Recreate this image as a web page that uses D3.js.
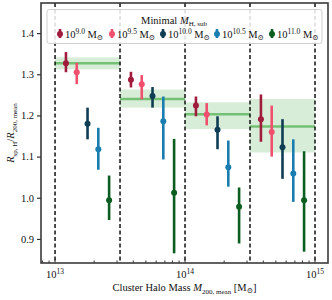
<!DOCTYPE html>
<html>
<head>
<meta charset="utf-8">
<script src="https://cdn.jsdelivr.net/npm/d3@7"></script>
<style>
  body { margin: 0; background: #fff; }
  text { font-family: "Liberation Serif", "DejaVu Serif", serif; fill: #111; }
</style>
</head>
<body>
<div id="chart"></div>
<script>
// bin edges in log10(M200,mean)
const binEdges = [13.0, 13.5, 14.0, 14.5, 15.0];
const minMassLabels = ["9.0", "9.5", "10.0", "10.5", "11.0"];
const seriesColors = ["#a01c3c", "#f0506e", "#0f3d54", "#1a7db0", "#0b5e20"];

// median ratio per series (rows) and mass bin (cols)
const ratioMed = [
    [1.327, 1.287, 1.224, 1.191],
    [1.305, 1.276, 1.202, 1.160],
    [1.180, 1.247, 1.165, 1.123],
    [1.118, 1.186, 1.074, 1.059],
    [0.994, 1.012, 0.978, 0.994]
];
const ratioLow = [
    [1.305, 1.268, 1.198, 1.136],
    [1.276, 1.239, 1.176, 1.100],
    [1.142, 1.219, 1.118, 1.046],
    [1.068, 1.093, 1.027, 0.990],
    [0.946, 0.865, 0.889, 0.869]
];
const ratioHigh = [
    [1.354, 1.306, 1.246, 1.251],
    [1.328, 1.298, 1.230, 1.224],
    [1.219, 1.269, 1.198, 1.191],
    [1.170, 1.246, 1.139, 1.142],
    [1.054, 1.143, 1.025, 1.113]
];

// green bands (combined) per bin
const bandMed = [1.327, 1.240, 1.203, 1.173];
const bandLow = [1.312, 1.219, 1.167, 1.110];
const bandHigh = [1.341, 1.263, 1.232, 1.240];

const yTicks = [0.9, 1.0, 1.1, 1.2, 1.3, 1.4];

const W = 332, H = 300;
const margin = {top: 3, right: 4, bottom: 37, left: 41};
const width = W - margin.left - margin.right;
const height = H - margin.top - margin.bottom;

const svg = d3.select("#chart").append("svg")
    .attr("width", W).attr("height", H);
const g = svg.append("g")
    .attr("transform", "translate(" + margin.left + "," + margin.top + ")");

const x = d3.scaleLog().domain([Math.pow(10, 12.892), Math.pow(10, 15.1)]).range([0, width]);
const y = d3.scaleLinear().domain([0.8415, 1.4732]).range([height, 0]);

// bands
binEdges.slice(0, -1).forEach((e, i) => {
    const x0 = x(Math.pow(10, e)), x1 = x(Math.pow(10, binEdges[i + 1]));
    g.append("rect")
        .attr("x", x0).attr("width", x1 - x0)
        .attr("y", y(bandHigh[i])).attr("height", y(bandLow[i]) - y(bandHigh[i]))
        .attr("fill", "#7cc47c").attr("fill-opacity", 0.3);
    g.append("line")
        .attr("x1", x0).attr("x2", x1)
        .attr("y1", y(bandMed[i])).attr("y2", y(bandMed[i]))
        .attr("stroke", "#74c074").attr("stroke-width", 2.5);
});

// dashed bin edges
binEdges.forEach(e => {
    g.append("line")
        .attr("x1", x(Math.pow(10, e))).attr("x2", x(Math.pow(10, e)))
        .attr("y1", 0).attr("y2", height)
        .attr("stroke", "#000").attr("stroke-width", 1.4)
        .attr("stroke-dasharray", "4,2.5");
});

// error bars
const dex = 0.083;
ratioMed.forEach((row, s) => {
    row.forEach((v, b) => {
        const c = (binEdges[b] + binEdges[b + 1]) / 2 + (s - 2) * dex;
        const px = x(Math.pow(10, c));
        g.append("line")
            .attr("x1", px).attr("x2", px)
            .attr("y1", y(ratioLow[s][b])).attr("y2", y(ratioHigh[s][b]))
            .attr("stroke", seriesColors[s]).attr("stroke-width", 2.6);
        g.append("circle")
            .attr("cx", px).attr("cy", y(v)).attr("r", 3)
            .attr("fill", seriesColors[s]);
    });
});

// axes
const yAxis = g.append("g")
    .call(d3.axisLeft(y).tickValues(yTicks).tickFormat(d3.format(".1f")).tickSize(4).tickPadding(3));
yAxis.select(".domain").remove();
yAxis.selectAll("line").attr("stroke", "#333").attr("stroke-width", 1.2);
yAxis.selectAll("text").attr("font-size", 10.5).attr("font-family", "Liberation Serif");

const minor = [];
for (let d = 12; d <= 15; d++) {
    for (let k = 1; k <= 9; k++) {
        const v = k * Math.pow(10, d);
        if (v >= x.domain()[0] && v <= x.domain()[1]) minor.push(v);
    }
}
const xAxis = g.append("g").attr("transform", "translate(0," + height + ")");
xAxis.selectAll("line.tk").data(minor).enter().append("line")
    .attr("x1", d => x(d)).attr("x2", d => x(d))
    .attr("y1", 0).attr("y2", d => Math.abs(Math.log10(d) % 1) < 1e-9 ? -4 : -2.5)
    .attr("stroke", "#333").attr("stroke-width", 1);
[13, 14, 15].forEach(p => {
    const t = xAxis.append("text")
        .attr("x", x(Math.pow(10, p))).attr("y", 15)
        .attr("text-anchor", "middle").attr("font-size", 10.5);
    t.append("tspan").text("10");
    t.append("tspan").attr("dy", -4).attr("font-size", 7.5).text(p);
});

// frame
g.append("rect")
    .attr("x", 0).attr("y", 0).attr("width", width).attr("height", height)
    .attr("fill", "none").attr("stroke", "#3a3a3a").attr("stroke-width", 1.6);

// legend
const leg = g.append("g");
leg.append("rect")
    .attr("x", 6).attr("y", 6.5).attr("width", 275).attr("height", 34).attr("rx", 2.5)
    .attr("fill", "#fff").attr("fill-opacity", 0.85)
    .attr("stroke", "#cfcfcf").attr("stroke-width", 1);
const title = leg.append("text")
    .attr("x", 133).attr("y", 20.5).attr("text-anchor", "middle").attr("font-size", 10.5);
title.append("tspan").text("Minimal ");
title.append("tspan").attr("font-style", "italic").text("M");
title.append("tspan").attr("dy", 2.5).attr("font-size", 7).text("H, sub");

const legX = [19, 71, 122, 176, 231];
minMassLabels.forEach((m, s) => {
    const lx = legX[s], ly = 31;
    leg.append("line")
        .attr("x1", lx).attr("x2", lx).attr("y1", ly - 5).attr("y2", ly + 4)
        .attr("stroke", seriesColors[s]).attr("stroke-width", 2.6);
    leg.append("circle").attr("cx", lx).attr("cy", ly).attr("r", 3)
        .attr("fill", seriesColors[s]);
    const t = leg.append("text")
        .attr("x", lx + 5).attr("y", ly + 4).attr("font-size", 10.5);
    t.append("tspan").text("10");
    t.append("tspan").attr("dy", -4).attr("font-size", 7.5).text(m);
    t.append("tspan").attr("dy", 4).text(" M");
    t.append("tspan").attr("dy", 2).attr("font-size", 7.5).text("\u2299");
});

// axis labels
const xl = svg.append("text")
    .attr("x", margin.left + width / 2).attr("y", 291)
    .attr("text-anchor", "middle").attr("font-size", 10.5);
xl.append("tspan").text("Cluster Halo Mass ");
xl.append("tspan").attr("font-style", "italic").text("M");
xl.append("tspan").attr("dy", 2.5).attr("font-size", 7).text("200, mean");
xl.append("tspan").attr("dy", -2.5).text(" [M");
xl.append("tspan").attr("dy", 2).attr("font-size", 7.5).text("\u2299");
xl.append("tspan").attr("dy", -2).text("]");

const yl = svg.append("text")
    .attr("transform", "translate(14," + (margin.top + height / 2) + ") rotate(-90)")
    .attr("text-anchor", "middle").attr("font-size", 10.5);
yl.append("tspan").attr("font-style", "italic").text("R");
yl.append("tspan").attr("dy", 2.5).attr("font-size", 7).text("sp, H");
yl.append("tspan").attr("dy", -2.5).text("/");
yl.append("tspan").attr("font-style", "italic").text("R");
yl.append("tspan").attr("dy", 2.5).attr("font-size", 7).text("200, mean");
</script>
</body>
</html>
